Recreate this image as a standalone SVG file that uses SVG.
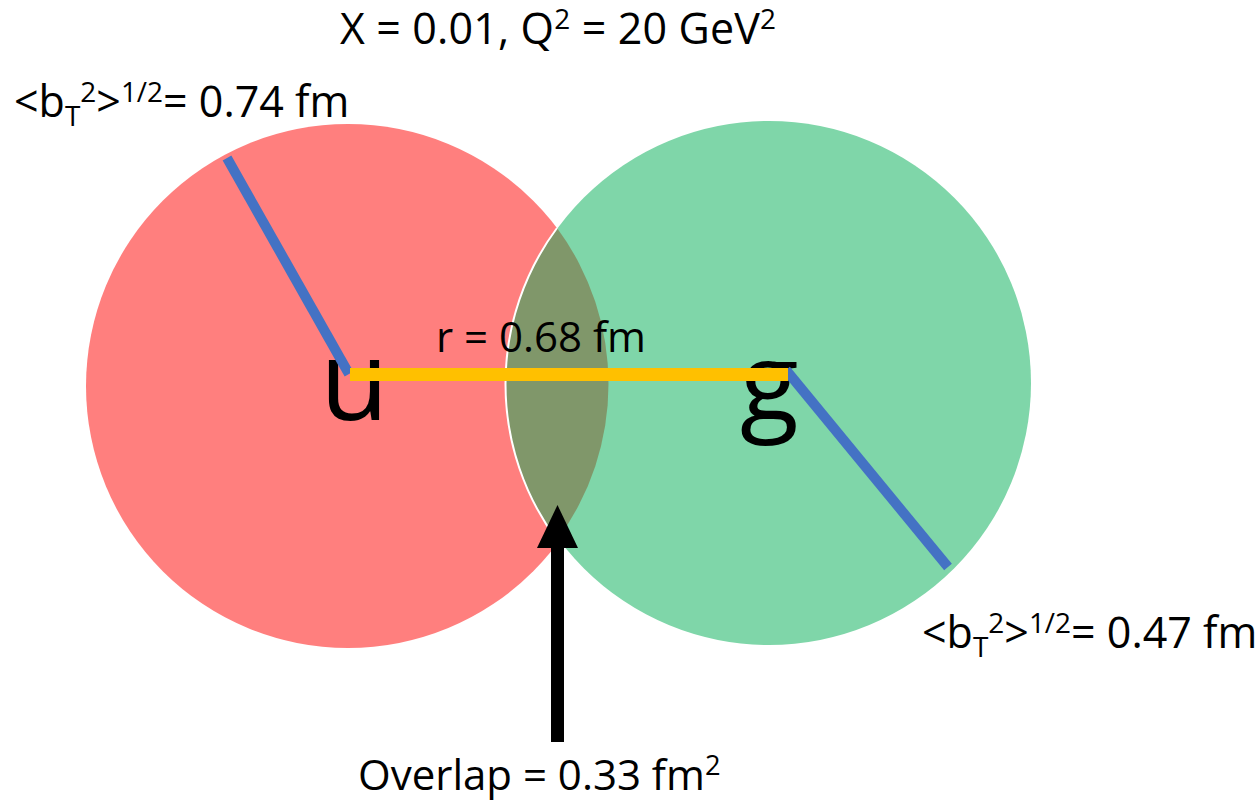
<svg xmlns="http://www.w3.org/2000/svg" width="1260" height="803" viewBox="0 0 1260 803">
<defs>
<style>
text{font-family:"Open Sans","Liberation Sans",sans-serif;fill:#000}
.sup{font-size:0.65em}
.radius{stroke:#4472C4;stroke-width:10;fill:none}
</style>
</defs>
<rect width="1260" height="803" fill="#fff"/>
<g id="node-u">
<circle cx="348" cy="386" r="262" fill="#FF7F7E"/>
</g>
<g id="node-g">
<circle cx="769" cy="383" r="262" fill="#7FD6A9"/>
</g>
<g id="overlap-region">
<path d="M557,228 A262,262 0 0 1 557,540 A262,262 0 0 1 557,228 Z" fill="#80976A"/>
<path d="M557,228 A262,262 0 0 0 557,540" fill="none" stroke="#fff" stroke-width="2"/>
</g>
<g id="label-u"><text x="320" y="420" font-size="112">u</text></g>
<g id="label-g"><text x="740" y="420" font-size="108">g</text></g>
<g id="connectors">
<line class="radius" x1="227" y1="158" x2="349" y2="374"/>
<line class="radius" x1="786" y1="370" x2="948" y2="567"/>
<line x1="350" y1="374.5" x2="788" y2="374.5" stroke="#FFC000" stroke-width="13"/>
<line x1="557.5" y1="742" x2="557.5" y2="540" stroke="#000" stroke-width="13"/>
<polygon points="557.5,505 537,548 578,548" fill="#000"/>
</g>
<g id="title"><text x="340" y="44" font-size="43" textLength="436">X = 0.01, Q<tspan class="sup" dy="-15">2</tspan><tspan dy="15"> = 20 GeV</tspan><tspan class="sup" dy="-15">2</tspan></text></g>
<g id="label-bt-u"><text x="14" y="117" font-size="43">&lt;b<tspan class="sup" dy="9">T</tspan><tspan class="sup" dy="-24">2</tspan><tspan dy="15">&gt;</tspan><tspan class="sup" dy="-15">1/2</tspan><tspan dy="15">= 0.74 fm</tspan></text></g>
<g id="label-bt-g"><text x="922" y="648" font-size="43">&lt;b<tspan class="sup" dy="9">T</tspan><tspan class="sup" dy="-24">2</tspan><tspan dy="15">&gt;</tspan><tspan class="sup" dy="-15">1/2</tspan><tspan dy="15">= 0.47 fm</tspan></text></g>
<g id="label-r"><text x="436" y="352" font-size="42">r = 0.68 fm</text></g>
<g id="label-overlap"><text x="358" y="790" font-size="42">Overlap = 0.33 fm<tspan class="sup" dy="-15">2</tspan></text></g>
</svg>
